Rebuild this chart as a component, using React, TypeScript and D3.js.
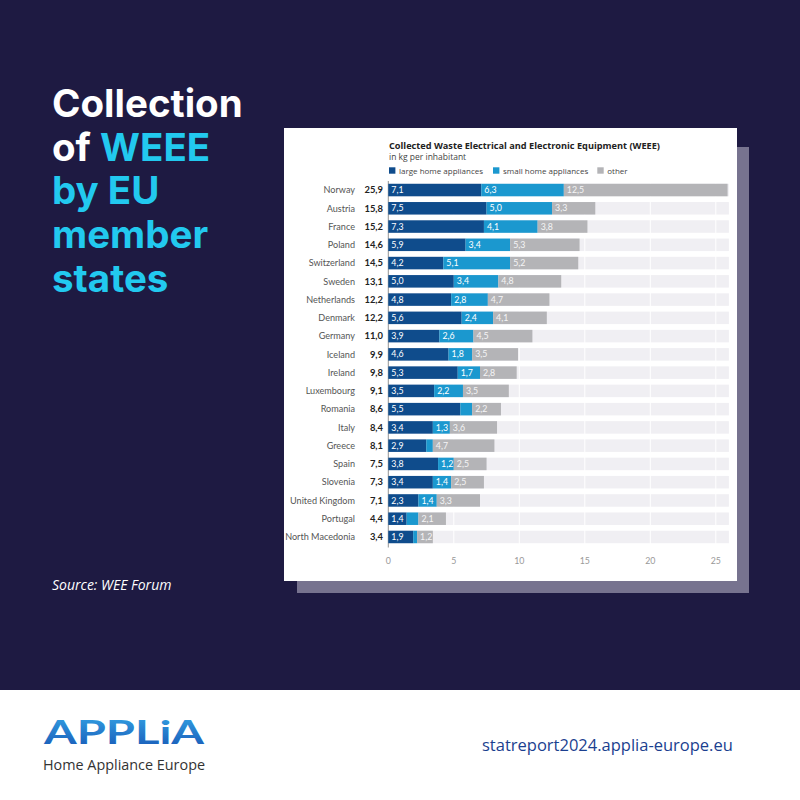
import React from "react";
import * as d3 from "d3";

const countries = ["Norway","Austria","France","Poland","Switzerland","Sweden","Netherlands","Denmark","Germany","Iceland","Ireland","Luxembourg","Romania","Italy","Greece","Spain","Slovenia","United Kingdom","Portugal","North Macedonia"];
const totals = [25.9,15.8,15.2,14.6,14.5,13.1,12.2,12.2,11.0,9.9,9.8,9.1,8.6,8.4,8.1,7.5,7.3,7.1,4.4,3.4];
const large = [7.1,7.5,7.3,5.9,4.2,5.0,4.8,5.6,3.9,4.6,5.3,3.5,5.5,3.4,2.9,3.8,3.4,2.3,1.4,1.9];
const small = [6.3,5.0,4.1,3.4,5.1,3.4,2.8,2.4,2.6,1.8,1.7,2.2,0.9,1.3,0.5,1.2,1.4,1.4,0.9,0.3];
const other = [12.5,3.3,3.8,5.3,5.2,4.8,4.7,4.1,4.5,3.5,2.8,3.5,2.2,3.6,4.7,2.5,2.5,3.3,2.1,1.2];
const seriesNames = ["large home appliances","small home appliances","other"];
const seriesColors = ["#0f4c8c","#1b98cf","#b4b4b7"];
const xTicks = [0,5,10,15,20,25];
const axisMax = 26;

const fmt = (v: number) => v.toFixed(1).replace(".", ",");
const labelFont = "Lato, 'Open Sans', sans-serif";

export default function App() {
  const x = d3.scaleLinear().domain([0, axisMax]).range([388.3, 388.3 + 26 * 13.1]);
  const y = d3.scaleBand<string>().domain(countries).range([180.9, 546.1]).paddingInner(0.315).paddingOuter(0.1575);
  const bh = y.bandwidth();
  const rows = countries.map((c, i) => ({ c, vals: [large[i], small[i], other[i]], total: totals[i] }));

  return (
    <svg width={800} height={800} style={{ position: "absolute", left: 0, top: 0 }} xmlns="http://www.w3.org/2000/svg">
      <defs>
        <linearGradient id="logoGrad" x1="0" y1="0" x2="0" y2="1">
          <stop offset="0" stopColor="#35a6e6" />
          <stop offset="1" stopColor="#1756b5" />
        </linearGradient>
      </defs>
      <rect x={0} y={0} width={800} height={690} fill="#1e1a42" />
      <rect x={0} y={690} width={800} height={110} fill="#ffffff" />

      {/* Left headline */}
      <g fontFamily="Inter, sans-serif" fontWeight={700} fontSize={38.5}>
        <text x={52} y={116.7} fill="#ffffff">Collection</text>
        <text x={52} y={160.5} fill="#ffffff">of <tspan fill="#22c9ef">WEEE</tspan></text>
        <text x={52} y={204.3} fill="#22c9ef">by EU</text>
        <text x={52} y={248} fill="#22c9ef">member</text>
        <text x={52} y={291.8} fill="#22c9ef">states</text>
      </g>
      <text x={52} y={590} fill="#ffffff" fontFamily="'Open Sans', sans-serif" fontStyle="italic" fontSize={14}>Source: WEE Forum</text>

      {/* Card */}
      <rect x={297} y={147} width={452} height={446} fill="#77738f" />
      <rect x={284} y={128} width={453} height={453} fill="#ffffff" />

      <text x={389} y={148.7} fontFamily="'Open Sans', sans-serif" fontWeight={700} fontSize={9.2} fill="#222">Collected Waste Electrical and Electronic Equipment (WEEE)</text>
      <text x={389} y={159.5} fontFamily="'Open Sans', sans-serif" fontSize={8.5} fill="#444">in kg per inhabitant</text>

      {/* Legend */}
      {[389, 493, 597.3].map((lx, k) => (
        <g key={k}>
          <rect x={lx} y={167.3} width={6.4} height={6.4} fill={seriesColors[k]} />
          <text x={lx + 10} y={173.5} fontFamily="'Open Sans', sans-serif" fontSize={8} fill="#444">{seriesNames[k]}</text>
        </g>
      ))}

      {/* background bars */}
      {rows.map((r) => (
        <rect key={"bg" + r.c} x={x(0)} y={y(r.c)} width={x(axisMax) - x(0)} height={bh} fill="#f0eff3" />
      ))}
      {/* gridlines */}
      {xTicks.slice(1).map((t) => (
        <line key={"g" + t} x1={x(t)} x2={x(t)} y1={181} y2={547} stroke="#ffffff" strokeWidth={1} />
      ))}
      <line x1={x(0)} x2={x(0)} y1={181} y2={547.5} stroke="#777" strokeWidth={0.8} />

      {/* stacked bars */}
      {rows.map((r) => {
        let acc = 0;
        return (
          <g key={r.c}>
            {r.vals.map((v, k) => {
              const x0 = x(acc);
              acc += v;
              const x1 = x(acc);
              return (
                <g key={k}>
                  <rect x={x0} y={y(r.c)} width={x1 - x0} height={bh} fill={seriesColors[k]} />
                  {v >= 1 && (
                    <text x={x0 + 3} y={y(r.c)! + bh / 2 + 3.1} fontFamily={labelFont} fontSize={8.8} fill={k === 2 ? "#f4f4f6" : "#ffffff"}>{fmt(v)}</text>
                  )}
                </g>
              );
            })}
            <text x={355} y={y(r.c)! + bh / 2 + 3.3} textAnchor="end" fontFamily={labelFont} fontSize={9.1} fill="#555">{r.c}</text>
            <text x={383} y={y(r.c)! + bh / 2 + 3.3} textAnchor="end" fontFamily={labelFont} fontWeight={700} fontSize={9.4} fill="#222">{fmt(r.total)}</text>
          </g>
        );
      })}

      {/* x axis ticks */}
      {xTicks.map((t) => (
        <text key={"t" + t} x={x(t)} y={564} textAnchor="middle" fontFamily={labelFont} fontSize={8.8} fill="#999">{t}</text>
      ))}

      {/* Footer */}
      <text x={44} y={744} fontFamily="Lato, sans-serif" fontWeight={700} fontSize={32} fill="url(#logoGrad)" textLength={160} lengthAdjust="spacingAndGlyphs">APPLiA</text>
      <text x={43} y={770} fontFamily="'Open Sans', sans-serif" fontSize={14} fill="#333" textLength={162} lengthAdjust="spacingAndGlyphs">Home Appliance Europe</text>
      <text x={482} y={751} fontFamily="'Open Sans', sans-serif" fontSize={16.5} fill="#1b3f8f">statreport2024.applia-europe.eu</text>
    </svg>
  );
}
